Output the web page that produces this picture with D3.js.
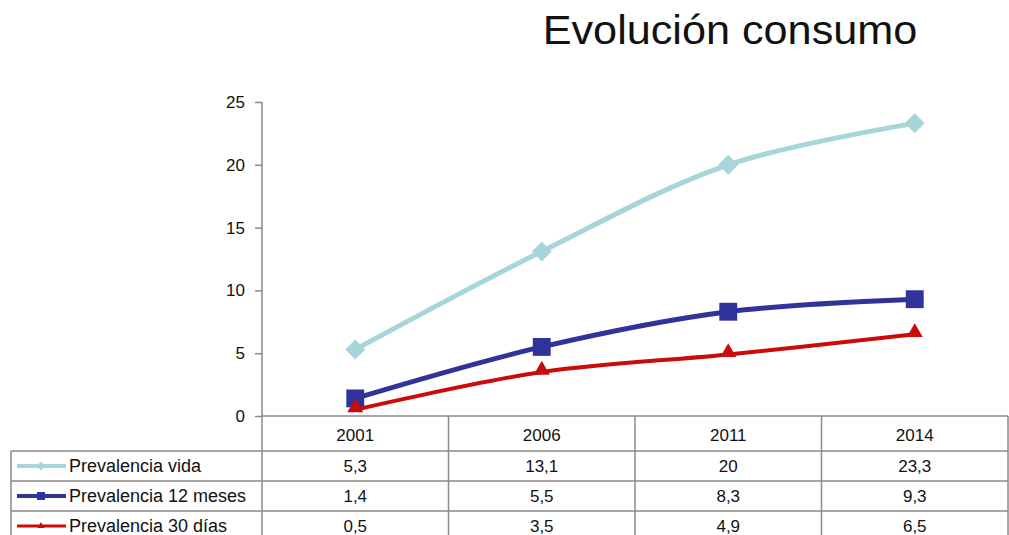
<!DOCTYPE html>
<html>
<head>
<meta charset="utf-8">
<script src="https://cdn.jsdelivr.net/npm/d3@7"></script>
<style>
body{margin:0;background:#fff;}
text{font-family:"Liberation Sans",Arial,sans-serif;}
</style>
</head>
<body>
<div id="chart"></div>
<script>
var years=["2001","2006","2011","2014"];
var vida=[5.3,13.1,20,23.3];
var meses12=[1.4,5.5,8.3,9.3];
var dias30=[0.5,3.5,4.9,6.5];
var seriesNames=["Prevalencia vida","Prevalencia 12 meses","Prevalencia 30 días"];
var yTicks=[0,5,10,15,20,25];

var W=1009,H=535;
var svg=d3.select("#chart").append("svg")
	.attr("width",W)
	.attr("height",H);

var x=d3.scaleBand().domain(years).range([262,1008]);
var y=d3.scaleLinear().domain([0,25]).range([416,102]);

var series=[
	{name:seriesNames[0],vals:vida,color:"#a6d6da",width:5,marker:"diamond",size:200},
	{name:seriesNames[1],vals:meses12,color:"#30339a",width:5,marker:"square",size:320},
	{name:seriesNames[2],vals:dias30,color:"#cc0a0a",width:4,marker:"triangle",size:110}
];

function symbolPath(s,size){
	var sym=s.marker=="triangle"?d3.symbolTriangle:d3.symbolSquare;
	return d3.symbol().type(sym).size(size)();
}
function rot(s){return s.marker=="diamond"?" rotate(45)":"";}

// title
svg.append("text")
	.attr("x",730)
	.attr("y",44)
	.attr("text-anchor","middle")
	.attr("font-size",40)
	.attr("fill","#111")
	.attr("transform","translate(730,0) scale(1.08,1) translate(-730,0)")
	.text("Evolución consumo");

// y axis
var yAxis=d3.axisLeft(y).tickValues(yTicks).tickSize(7).tickPadding(10);
var ag=svg.append("g").attr("transform","translate(262,0)").call(yAxis);
ag.selectAll("path,line").attr("stroke","#8a8a8a").attr("stroke-width",1.5);
ag.select(".domain").attr("d","M0,102V416");
ag.selectAll("text").attr("font-size",17).attr("fill","#111")
	.attr("font-family","Liberation Sans,Arial,sans-serif");

// data table
var rowY=[416,451,481,511,540];
var tg=svg.append("g").attr("stroke","#8a8a8a").attr("stroke-width",1.5);
tg.append("line").attr("x1",262).attr("x2",1008).attr("y1",416).attr("y2",416);
rowY.slice(1).forEach(function(r){
	tg.append("line").attr("x1",11).attr("x2",1008).attr("y1",r).attr("y2",r);
});
tg.append("line").attr("x1",11).attr("x2",11).attr("y1",451).attr("y2",H);
years.forEach(function(d){
	tg.append("line").attr("x1",x(d)).attr("x2",x(d)).attr("y1",416).attr("y2",H);
});
tg.append("line").attr("x1",1008).attr("x2",1008).attr("y1",416).attr("y2",H);

svg.selectAll("text.year").data(years).enter().append("text")
	.attr("class","year")
	.attr("x",function(d){return x(d)+x.bandwidth()/2;})
	.attr("y",441)
	.attr("text-anchor","middle")
	.attr("font-size",17)
	.attr("fill","#111")
	.text(function(d){return d;});

var fmt=function(v){return String(v).replace(".",",");};

series.forEach(function(s,i){
	var cy=(rowY[i+1]+rowY[i+2])/2+6;
	if(i==2) cy=rowY[3]+21;
	// legend key
	svg.append("line").attr("x1",17).attr("x2",66).attr("y1",cy-6).attr("y2",cy-6)
		.attr("stroke",s.color).attr("stroke-width",s.width-1);
	svg.append("path").attr("d",symbolPath(s,s.size/5))
		.attr("transform","translate(41,"+(cy-6)+")"+rot(s)).attr("fill",s.color);
	svg.append("text").attr("x",69).attr("y",cy)
		.attr("font-size",18).attr("fill","#111")
		.text(s.name);
	// values
	svg.selectAll(null).data(s.vals).enter().append("text")
		.attr("x",function(d,j){return x(years[j])+x.bandwidth()/2;})
		.attr("y",cy)
		.attr("text-anchor","middle")
		.attr("font-size",17)
		.attr("fill","#111")
		.text(function(d){return fmt(d);});
});

// lines and markers
var line=d3.line()
	.x(function(d,j){return x(years[j])+x.bandwidth()/2;})
	.y(function(d){return y(d);})
	.curve(d3.curveCatmullRom.alpha(0.5));

series.forEach(function(s){
	svg.append("path").datum(s.vals)
		.attr("d",line)
		.attr("fill","none")
		.attr("stroke",s.color)
		.attr("stroke-width",s.width);
	svg.selectAll(null).data(s.vals).enter().append("path")
		.attr("d",symbolPath(s,s.size))
		.attr("transform",function(d,j){
			var dy=s.marker=="triangle"?-2:0;
			return "translate("+(x(years[j])+x.bandwidth()/2)+","+(y(d)+dy)+")"+rot(s);
		})
		.attr("fill",s.color);
});
</script>
</body>
</html>
